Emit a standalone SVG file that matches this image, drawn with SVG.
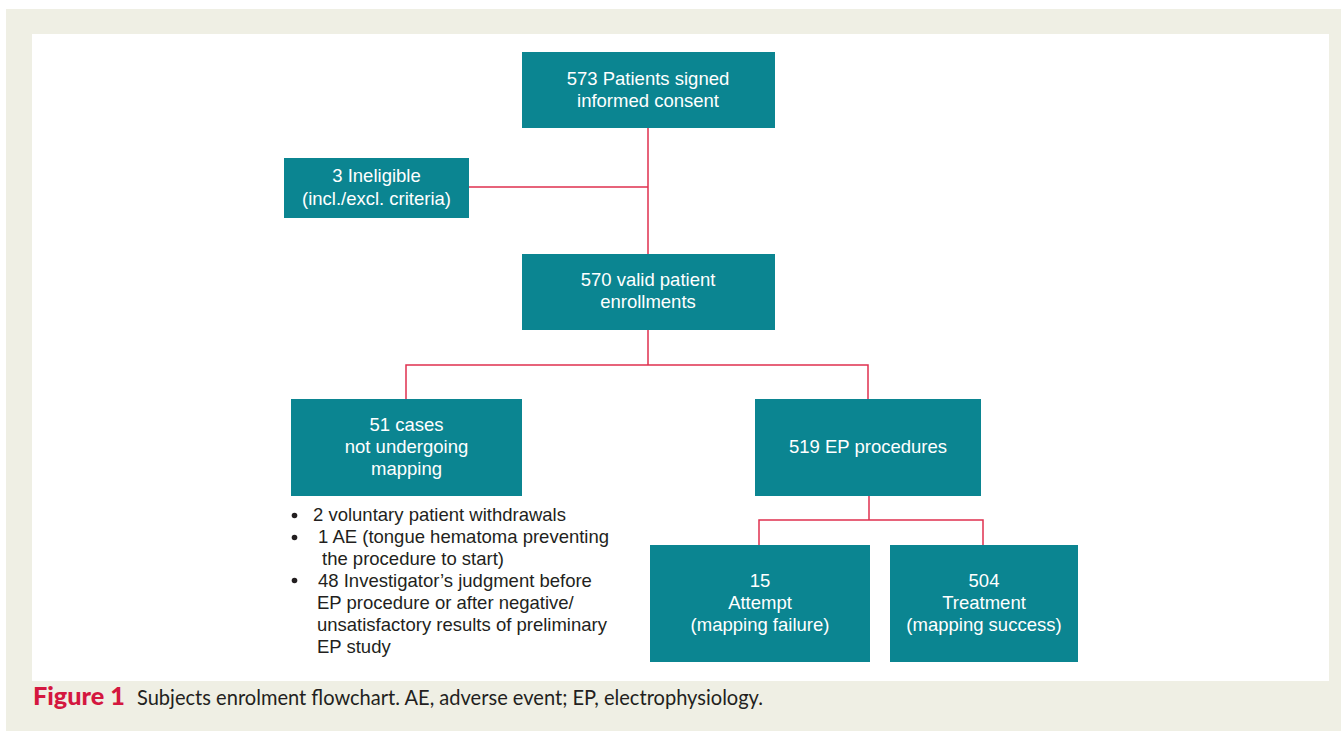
<svg xmlns="http://www.w3.org/2000/svg" width="1341" height="731" viewBox="0 0 1341 731">
<style>
.bg{fill:#efefe4}
.panel{fill:#ffffff}
.box{fill:#0b8591}
.bt{font-family:"Liberation Sans",Arial,sans-serif;font-size:18.5px;fill:#ffffff;text-anchor:middle}
.lt{font-family:"Liberation Sans",Arial,sans-serif;font-size:18.5px;fill:#231f20}
.conn{stroke:#e0314f;stroke-width:1.5;fill:none}
.cap{font-family:Lato,"Open Sans",sans-serif;font-size:21px;fill:#231f20}
.capb{font-family:Lato,"Open Sans",sans-serif;font-size:24px;font-weight:900;fill:#d4173f}
</style>
<rect class="bg" x="6" y="9" width="1335" height="722"/>
<rect class="panel" x="32" y="34" width="1297" height="647"/>
<g id="connectors">
<path class="conn" d="M648,128 V254 M469,187 H648"/>
<path class="conn" d="M648,330 V365 M406,399 V365 H868 V399"/>
<path class="conn" d="M869,496 V520 M759,545 V520 H983 V545"/>
</g>
<g id="n573">
<rect class="box" x="522" y="52" width="253" height="76"/>
<text class="bt" x="648" y="84.5">573 Patients signed</text>
<text class="bt" x="648" y="106.5">informed consent</text>
</g>
<g id="n3">
<rect class="box" x="284" y="158" width="185" height="60"/>
<text class="bt" x="376.5" y="181.5">3 Ineligible</text>
<text class="bt" x="376.5" y="204.5">(incl./excl. criteria)</text>
</g>
<g id="n570">
<rect class="box" x="522" y="254" width="253" height="76"/>
<text class="bt" x="648" y="285.5">570 valid patient</text>
<text class="bt" x="648" y="307.5">enrollments</text>
</g>
<g id="n51">
<rect class="box" x="291" y="399" width="231" height="97"/>
<text class="bt" x="406.5" y="430.5">51 cases</text>
<text class="bt" x="406.5" y="452.5">not undergoing</text>
<text class="bt" x="406.5" y="474.5">mapping</text>
</g>
<g id="n51-notes">
<circle cx="294.5" cy="515.5" r="2.8" fill="#231f20"/>
<circle cx="294.5" cy="537.5" r="2.8" fill="#231f20"/>
<circle cx="294.5" cy="580.5" r="2.8" fill="#231f20"/>
<text class="lt" x="313" y="521">2 voluntary patient withdrawals</text>
<text class="lt" x="318" y="543">1 AE (tongue hematoma preventing</text>
<text class="lt" x="322" y="565">the procedure to start)</text>
<text class="lt" x="318" y="586.5">48 Investigator’s judgment before</text>
<text class="lt" x="317" y="609">EP procedure or after negative/</text>
<text class="lt" x="317" y="631">unsatisfactory results of preliminary</text>
<text class="lt" x="317" y="652.5">EP study</text>
</g>
<g id="n519">
<rect class="box" x="755" y="399" width="226" height="97"/>
<text class="bt" x="868" y="452.5">519 EP procedures</text>
</g>
<g id="n15">
<rect class="box" x="650" y="545" width="220" height="117"/>
<text class="bt" x="760" y="586.5">15</text>
<text class="bt" x="760" y="608.5">Attempt</text>
<text class="bt" x="760" y="630.5">(mapping failure)</text>
</g>
<g id="n504">
<rect class="box" x="890" y="545" width="188" height="117"/>
<text class="bt" x="984" y="586.5">504</text>
<text class="bt" x="984" y="608.5">Treatment</text>
<text class="bt" x="984" y="630.5">(mapping success)</text>
</g>
<g id="caption">
<text class="capb" x="33" y="705" textLength="92" lengthAdjust="spacingAndGlyphs">Figure 1</text>
<text class="cap" x="137" y="705" textLength="626" lengthAdjust="spacingAndGlyphs">Subjects enrolment flowchart. AE, adverse event; EP, electrophysiology.</text>
</g>
</svg>
